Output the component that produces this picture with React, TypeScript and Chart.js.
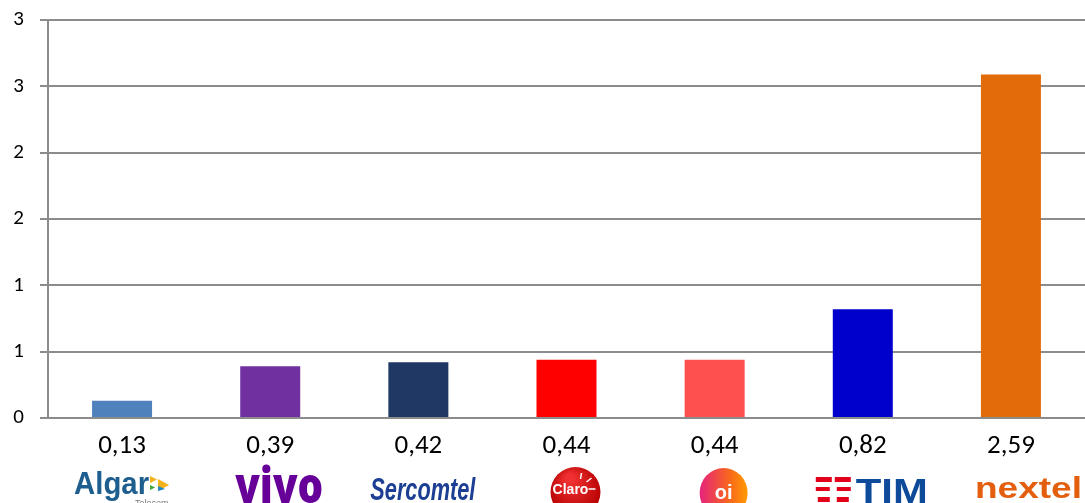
import React, { useEffect, useRef } from "react";
import { Chart, registerables } from "chart.js";

Chart.register(...registerables);

const categories = ["Algar", "Vivo", "Sercomtel", "Claro", "Oi", "TIM", "Nextel"];
const values = [0.13, 0.39, 0.42, 0.44, 0.44, 0.82, 2.59];
const valueLabels = ["0,13", "0,39", "0,42", "0,44", "0,44", "0,82", "2,59"];
const barColors = ["#4F81BD", "#7030A0", "#1F3864", "#FF0000", "#FF5050", "#0000CC", "#E36C0A"];

const FONT = "Carlito, 'Liberation Sans', sans-serif";

function fitText(ctx: CanvasRenderingContext2D, text: string, left: number, baseline: number, width: number, font: string, color: string) {
  ctx.save();
  ctx.font = font;
  ctx.fillStyle = color;
  ctx.textAlign = "left";
  ctx.textBaseline = "alphabetic";
  const w = ctx.measureText(text).width;
  const s = width / w;
  ctx.translate(left, baseline);
  ctx.scale(s, 1);
  ctx.fillText(text, 0, 0);
  ctx.restore();
}

function drawLogo(ctx: CanvasRenderingContext2D, name: string, x: number) {
  ctx.save();
  if (name === "Algar") {
    fitText(ctx, "Algar", x - 48, 494, 75, "bold 32px 'Liberation Sans', sans-serif", "#1D5E8E");
    const ax = x + 28;
    ctx.fillStyle = "#F2B21B";
    ctx.beginPath(); ctx.moveTo(ax, 476); ctx.lineTo(ax + 7, 479.5); ctx.lineTo(ax, 483); ctx.fill();
    ctx.fillStyle = "#3BAA35";
    ctx.beginPath(); ctx.moveTo(ax, 485); ctx.lineTo(ax + 5, 487.5); ctx.lineTo(ax, 490); ctx.fill();
    ctx.fillStyle = "#F2B21B";
    ctx.beginPath(); ctx.moveTo(ax + 8, 479); ctx.lineTo(ax + 19, 485); ctx.lineTo(ax + 8, 491); ctx.fill();
    ctx.fillStyle = "#1E88C8";
    ctx.beginPath(); ctx.moveTo(ax + 8, 486); ctx.lineTo(ax + 15, 489); ctx.lineTo(ax + 8, 491); ctx.fill();
    ctx.font = "9px 'Liberation Sans', sans-serif";
    ctx.fillStyle = "#777";
    ctx.textAlign = "left";
    ctx.textBaseline = "alphabetic";
    ctx.fillText("Telecom", x + 13, 506);
  } else if (name === "Vivo") {
    fitText(ctx, "vivo", x - 35, 503, 88, "900 50px 'Open Sans', sans-serif", "#660099");
  } else if (name === "Sercomtel") {
    fitText(ctx, "Sercomtel", x - 48, 500, 105, "italic bold 32px 'Liberation Sans', sans-serif", "#1C3F94");
  } else if (name === "Claro") {
    const cx = x + 9;
    const g = ctx.createRadialGradient(cx - 6, 478, 4, cx, 490, 28);
    g.addColorStop(0, "#F03030");
    g.addColorStop(1, "#B50000");
    ctx.fillStyle = g;
    ctx.beginPath(); ctx.ellipse(cx, 492, 25, 25, 0, 0, Math.PI * 2); ctx.fill();
    ctx.fillStyle = "#fff";
    ctx.font = "bold 14px 'Liberation Sans', sans-serif";
    ctx.textAlign = "center";
    ctx.textBaseline = "middle";
    ctx.fillText("Claro", cx - 5, 490);
    ctx.strokeStyle = "#fff";
    ctx.lineWidth = 1.5;
    ctx.beginPath(); ctx.moveTo(cx + 13, 489); ctx.lineTo(cx + 20, 489); ctx.stroke();
    ctx.beginPath(); ctx.moveTo(cx + 11, 482); ctx.lineTo(cx + 16, 478); ctx.stroke();
    ctx.beginPath(); ctx.moveTo(cx + 5, 479); ctx.lineTo(cx + 6, 473); ctx.stroke();
  } else if (name === "Oi") {
    const cx = x + 9;
    const g = ctx.createLinearGradient(cx - 24, 0, cx + 24, 0);
    g.addColorStop(0, "#E4237D");
    g.addColorStop(0.6, "#F8651F");
    g.addColorStop(1, "#FF9A00");
    ctx.fillStyle = g;
    ctx.beginPath(); ctx.ellipse(cx, 493, 24, 25, 0, 0, Math.PI * 2); ctx.fill();
    ctx.fillStyle = "#fff";
    ctx.font = "bold 20px 'Liberation Sans', sans-serif";
    ctx.textAlign = "center";
    ctx.textBaseline = "middle";
    ctx.fillText("oi", cx, 493);
  } else if (name === "TIM") {
    ctx.fillStyle = "#E3001B";
    const sx = x - 47;
    ctx.fillRect(sx, 477, 16, 5);
    ctx.fillRect(sx + 19, 477, 16, 5);
    ctx.fillRect(sx, 487, 14, 4);
    ctx.fillRect(sx + 21, 487, 14, 4);
    ctx.fillRect(sx + 2, 497, 12, 5);
    ctx.fillRect(sx + 21, 497, 12, 5);
    fitText(ctx, "TIM", x - 7, 503, 72, "bold 35px 'Liberation Sans', sans-serif", "#0D4A9A");
  } else if (name === "Nextel") {
    fitText(ctx, "nextel", x - 36, 498, 107, "bold 29px 'Liberation Sans', sans-serif", "#E35F0E");
  }
  ctx.restore();
}

const labelsPlugin = {
  id: "bottomLabels",
  afterDraw(chart: any) {
    const ctx: CanvasRenderingContext2D = chart.ctx;
    const xs = chart.scales.x;
    ctx.save();
    categories.forEach((c, i) => {
      const x = xs.getPixelForValue(i);
      ctx.font = `27px ${FONT}`;
      ctx.fillStyle = "#000";
      ctx.textAlign = "center";
      ctx.textBaseline = "middle";
      ctx.fillText(valueLabels[i], x, 446);
      drawLogo(ctx, c, x);
    });
    ctx.restore();
  },
};

export default function App() {
  const ref = useRef<HTMLCanvasElement>(null);
  useEffect(() => {
    if (!ref.current) return;
    const chart = new Chart(ref.current, {
      type: "bar",
      data: {
        labels: categories,
        datasets: [
          {
            data: values,
            backgroundColor: barColors,
            categoryPercentage: 1,
            barPercentage: 0.405,
          },
        ],
      },
      options: {
        animation: false,
        responsive: true,
        maintainAspectRatio: false,
        layout: { padding: { top: 20, left: 0, right: 0, bottom: 0 } },
        plugins: { legend: { display: false }, tooltip: { enabled: false } },
        scales: {
          x: {
            grid: { display: false },
            border: { display: true, color: "#8C8C8C", width: 2 },
            ticks: { display: false },
            afterFit: (s: any) => { s.height = 85; s.paddingLeft = 0; s.paddingRight = 0; },
          },
          y: {
            min: 0,
            max: 3,
            ticks: {
              stepSize: 0.5,
              color: "#000",
              font: { size: 21, family: FONT },
              padding: 16,
              callback: (v: any) => String(Math.round(Number(v))),
            },
            grid: { color: "#8C8C8C", lineWidth: 2, tickLength: 8 },
            border: { display: true, color: "#8C8C8C", width: 2 },
            afterFit: (s: any) => { s.width = 48; s.paddingTop = 0; s.paddingBottom = 0; },
          },
        },
      },
      plugins: [labelsPlugin],
    });
    return () => chart.destroy();
  }, []);
  return (
    <div style={{ position: "fixed", left: 0, top: 0, width: 1085, height: 503, background: "#fff" }}>
      <canvas ref={ref} />
    </div>
  );
}
